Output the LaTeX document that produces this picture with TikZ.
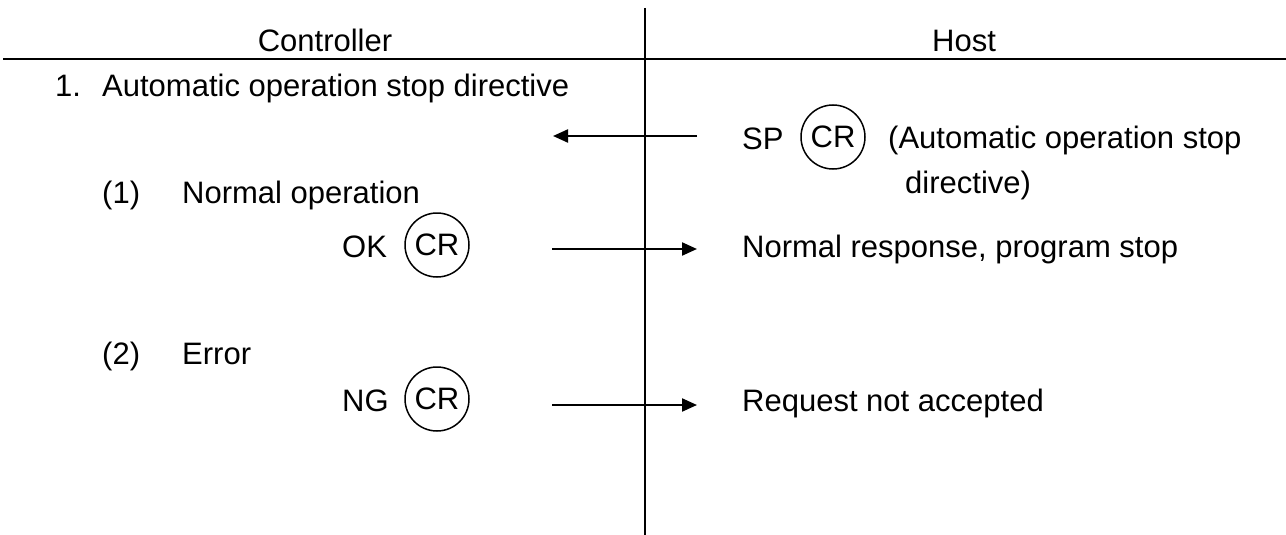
\documentclass[tikz,border=0pt]{standalone}
\usepackage{fontspec}
\setmainfont{Liberation Sans}
\usetikzlibrary{arrows.meta}
\begin{document}
\begin{tikzpicture}[x=1pt,y=-1pt,
  txt/.style={anchor=base west, inner sep=0pt, font=\fontsize{31}{37}\selectfont},
  hdr/.style={anchor=base, inner sep=0pt, font=\fontsize{31}{37}\selectfont},
  crc/.style={circle, draw, line width=1.5pt, minimum size=64pt, inner sep=0pt, font=\fontsize{31}{37}\selectfont},
  msg/.style={line width=2.2pt, -{Triangle[length=15pt,width=13pt]}},
  rule/.style={line width=2pt}]
\useasboundingbox (0,0) rectangle (1286,535);
% frame lines
\coordinate (vt) at (645,8);
\coordinate (vb) at (645,535);
\draw[rule] (vt) -- (vb);
\coordinate (hl) at (3,59);
\coordinate (hr) at (1286,59);
\draw[rule] (hl) -- (hr);
% headers
\node[hdr] (ctl) at (325,52) {Controller};
\node[hdr] (host) at (964,52) {Host};
% item 1
\node[txt] (n1) at (55,96) {1.};
\node[txt] (t1) at (102,96) {Automatic operation stop directive};
% SP command from host
\node[txt] (sp) at (742,149) {SP};
\node[crc] (cr0) at (833,137) {CR};
\node[txt] (sptxt) at (888,148) {(Automatic operation stop};
\node[txt] (sptxt2) at (905,193) {directive)};
\coordinate (a1s) at (697,136);
\coordinate (a1e) at (553,136);
\draw[msg] (a1s) -- (a1e);
% (1) normal operation
\node[txt] (p1) at (102,203) {(1)};
\node[txt] (p1t) at (182,203) {Normal operation};
\node[txt] (ok) at (342,257) {OK};
\node[crc] (cr1) at (437,245) {CR};
\coordinate (a2s) at (552,249);
\coordinate (a2e) at (697,249);
\draw[msg] (a2s) -- (a2e);
\node[txt] (r1) at (742,257) {Normal response, program stop};
% (2) error
\node[txt] (p2) at (102,364) {(2)};
\node[txt] (p2t) at (182,364) {Error};
\node[txt] (ng) at (342,411) {NG};
\node[crc] (cr2) at (437,399) {CR};
\coordinate (a3s) at (552,405);
\coordinate (a3e) at (697,405);
\draw[msg] (a3s) -- (a3e);
\node[txt] (r2) at (742,411) {Request not accepted};
\end{tikzpicture}
\end{document}
